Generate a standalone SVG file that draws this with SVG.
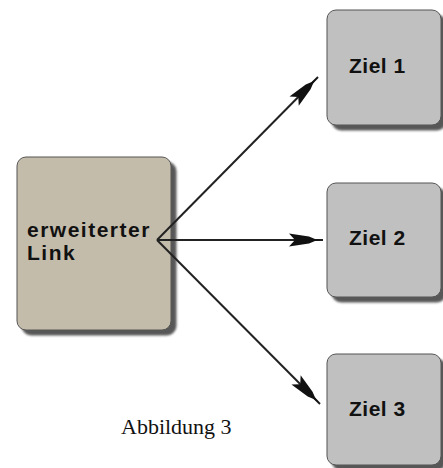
<svg xmlns="http://www.w3.org/2000/svg" width="443" height="468" viewBox="0 0 443 468">
  <style>
    .box { stroke: #555; stroke-width: 1; filter: url(#shadow); }
    .src { fill: #c4bcab; }
    .dst { fill: #c0c0c0; }
    .lbl { font-family: "Liberation Sans", Arial, sans-serif; font-weight: bold; font-size: 21px; fill: #111; }
    .edge { fill: none; stroke: #222; stroke-width: 2; marker-end: url(#dart); }
    .caption { font-family: "Liberation Serif", "Times New Roman", serif; font-size: 22px; fill: #111; }
  </style>
  <defs>
    <filter id="shadow" x="-10%" y="-10%" width="130%" height="130%">
      <feDropShadow dx="5" dy="5" stdDeviation="1.2" flood-color="#3a3a3a" flood-opacity="0.85"/>
    </filter>
    <marker id="dart" markerUnits="userSpaceOnUse" orient="auto" markerWidth="40" markerHeight="16" refX="36" refY="8" viewBox="0 0 40 16">
      <path d="M36,8 L28,7 L22,4.6 L2,1.5 L8,8 L2,14.5 L22,11.4 L28,9 Z" fill="#111"/>
    </marker>
  </defs>

  <rect width="443" height="468" fill="#ffffff"/>

  <!-- source node -->
  <g id="erweiterter-link">
    <rect class="box src" x="17" y="157" width="154" height="173" rx="9"/>
    <text class="lbl" x="27" y="237" letter-spacing="1.5">erweiterter</text>
    <text class="lbl" x="27" y="260" letter-spacing="1.5">Link</text>
  </g>

  <!-- connectors, drawn over the source node -->
  <g id="connectors">
    <path class="edge" d="M157,240 L318,77"/>
    <path class="edge" d="M157,240 L323,240"/>
    <path class="edge" d="M157,240 L320,404"/>
  </g>

  <!-- target nodes -->
  <g id="ziel-1">
    <rect class="box dst" x="327" y="10" width="114" height="115" rx="9"/>
    <text class="lbl" x="349" y="73" letter-spacing="0.5">Ziel 1</text>
  </g>
  <g id="ziel-2">
    <rect class="box dst" x="327" y="183" width="114" height="114" rx="9"/>
    <text class="lbl" x="349" y="245" letter-spacing="0.5">Ziel 2</text>
  </g>
  <g id="ziel-3">
    <rect class="box dst" x="327" y="354" width="114" height="111" rx="9"/>
    <text class="lbl" x="349" y="416" letter-spacing="0.5">Ziel 3</text>
  </g>

  <text class="caption" x="121" y="434">Abbildung 3</text>
</svg>
